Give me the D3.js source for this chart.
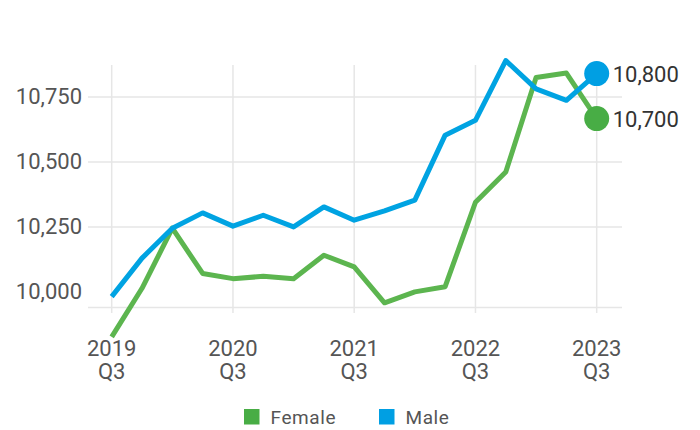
<!DOCTYPE html>
<html>
<head>
<meta charset="utf-8">
<script src="https://cdn.jsdelivr.net/npm/d3@7"></script>
<style>
  body {margin:0; background:#fff;}
  svg text {font-family:Roboto, "DejaVu Sans", sans-serif;}
</style>
</head>
<body>
<svg id="chart" width="700" height="430"></svg>
<script>
// quarterly values
var quarters=['2019 Q3','2019 Q4','2020 Q1','2020 Q2','2020 Q3','2020 Q4','2021 Q1','2021 Q2',
  '2021 Q3','2021 Q4','2022 Q1','2022 Q2','2022 Q3','2022 Q4','2023 Q1','2023 Q2','2023 Q3'];
var female=[9827,10014,10245,10071,10051,10060,10051,10141,10096,9958,10000,10020,10345,10461,10825,10842,10667];
var male=[9982,10130,10245,10304,10253,10295,10250,10327,10276,10312,10353,10603,10660,10890,10781,10737,10840];
var yTicks=[10000,10250,10500,10750];
var xTickIdx=[0,4,8,12,16];
var seriesNames=['Female','Male'];

var colors={Female:{line:'#5cb54f',dot:'#48ad45'},Male:{line:'#00a3e2',dot:'#009fe3'}};

var svg=d3.select('#chart');
var xscale=d3.scaleLinear().domain([0,quarters.length-1]).range([111.7,596.7]);
var yscale=d3.scaleLinear().domain([9940,10873]).range([307.5,65]);
var gridLeft=88, gridRight=622;

var gg=svg.append('g');

// horizontal grid (no line at 10,000 in the original)
yTicks.forEach(function(v) {
    if (v!=10000) {
        gg.append('line')
            .attr('x1',gridLeft).attr('x2',gridRight)
            .attr('y1',yscale(v)).attr('y2',yscale(v))
            .style('stroke','#e6e6e6').style('stroke-width',1.5);
    }
    gg.append('text')
        .attr('x',82).attr('y',yscale(v)+7.5)
        .style('text-anchor','end')
        .style('font-size','22px')
        .style('fill','#555')
        .text(d3.format(',')(v));
});

// vertical grid
xTickIdx.forEach(function(i) {
    gg.append('line')
        .attr('x1',xscale(i)).attr('x2',xscale(i))
        .attr('y1',65).attr('y2',313)
        .style('stroke','#e6e6e6').style('stroke-width',1.5);
    var parts=quarters[i].split(' ');
    var t=gg.append('text')
        .attr('x',xscale(i)).attr('y',356)
        .style('text-anchor','middle')
        .style('font-size','22px')
        .style('fill','#555');
    t.append('tspan').attr('x',xscale(i)).attr('dy',0).text(parts[0]);
    t.append('tspan').attr('x',xscale(i)).attr('dy',23).text(parts[1]);
});

// baseline
gg.append('line')
    .attr('x1',gridLeft).attr('x2',gridRight)
    .attr('y1',yscale.range()[0]).attr('y2',yscale.range()[0])
    .style('stroke','#e6e6e6').style('stroke-width',1.5);

var line=d3.line()
    .x(function(d,i) {return xscale(i);})
    .y(function(d) {return yscale(d);});

var data={Female:female,Male:male};
seriesNames.forEach(function(name) {
    gg.append('path')
        .attr('d',line(data[name]))
        .style('fill','none')
        .style('stroke',colors[name].line)
        .style('stroke-width',5)
        .style('stroke-linejoin','round');
});

// end dots + labels
seriesNames.forEach(function(name) {
    var vals=data[name];
    var n=vals.length-1;
    gg.append('circle')
        .attr('cx',xscale(n)).attr('cy',yscale(vals[n]))
        .attr('r',12.5)
        .style('fill',colors[name].dot);
    gg.append('text')
        .attr('x',xscale(n)+16).attr('y',yscale(vals[n])+8)
        .style('font-size','22px')
        .style('fill','#333')
        .text(d3.format(',')(Math.round(vals[n]/100)*100));
});

// legend
var legendX=[244,379];
seriesNames.forEach(function(name,i) {
    var lg=svg.append('g').attr('transform','translate('+legendX[i]+',409)');
    lg.append('rect').attr('width',15.5).attr('height',15.5).style('fill',colors[name].dot);
    lg.append('text')
        .attr('x',26.5).attr('y',15)
        .style('font-size','19px')
        .style('letter-spacing','0.6px')
        .style('fill','#555')
        .text(name);
});
</script>
</body>
</html>
